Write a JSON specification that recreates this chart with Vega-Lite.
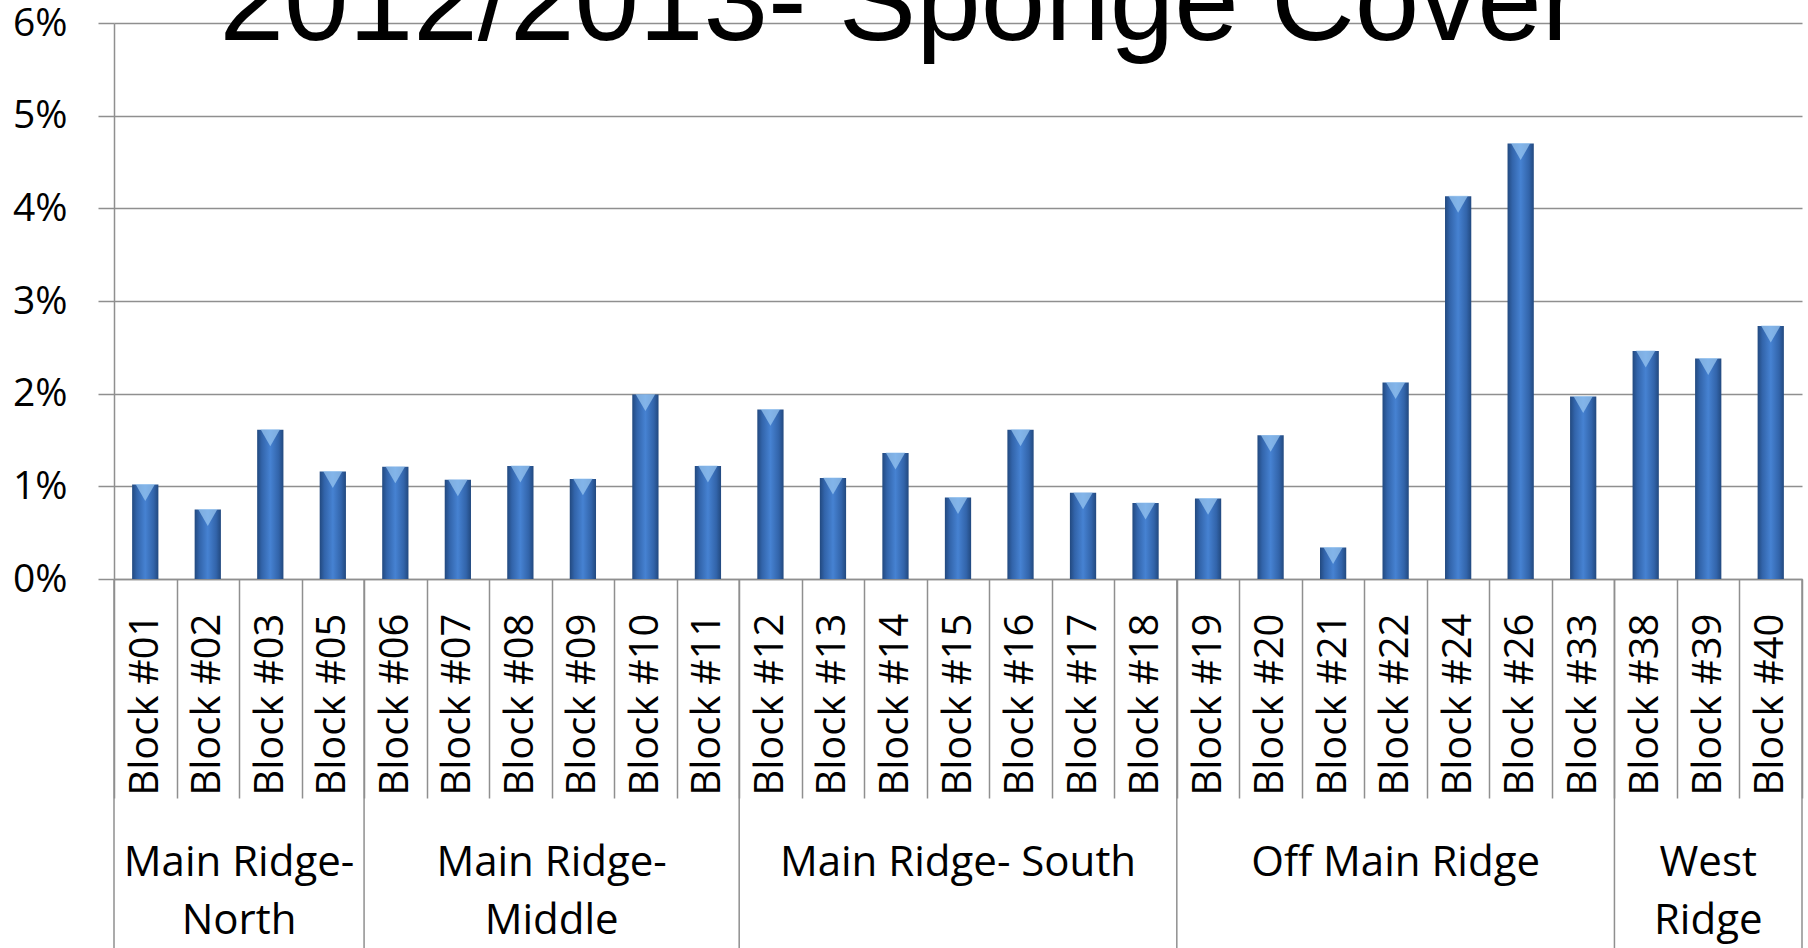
{
  "$schema": "https://vega.github.io/schema/vega-lite/v6.json",
  "width": 1688,
  "height": 556,
  "autosize": "none",
  "padding": {"left": 114, "top": 23, "right": 6, "bottom": 369},
  "background": "white",
  "config": {"view": {"stroke": null}},
  "title": {
    "text": "2012/2013- Sponge Cover",
    "font": "Liberation Sans",
    "fontSize": 116,
    "fontWeight": "normal",
    "color": "black",
    "anchor": "middle",
    "baseline": "alphabetic",
    "dx": -58,
    "offset": 0,
    "dy": 152
  },
  "datasets": {
    "blocks": [
      {"block": "Block #01", "group": "Main Ridge- North", "cover": 0.0102},
      {"block": "Block #02", "group": "Main Ridge- North", "cover": 0.0075},
      {"block": "Block #03", "group": "Main Ridge- North", "cover": 0.0161},
      {"block": "Block #05", "group": "Main Ridge- North", "cover": 0.0116},
      {"block": "Block #06", "group": "Main Ridge- Middle", "cover": 0.0121},
      {"block": "Block #07", "group": "Main Ridge- Middle", "cover": 0.0107},
      {"block": "Block #08", "group": "Main Ridge- Middle", "cover": 0.0122},
      {"block": "Block #09", "group": "Main Ridge- Middle", "cover": 0.0108},
      {"block": "Block #10", "group": "Main Ridge- Middle", "cover": 0.0199},
      {"block": "Block #11", "group": "Main Ridge- Middle", "cover": 0.0122},
      {"block": "Block #12", "group": "Main Ridge- South", "cover": 0.0183},
      {"block": "Block #13", "group": "Main Ridge- South", "cover": 0.0109},
      {"block": "Block #14", "group": "Main Ridge- South", "cover": 0.0136},
      {"block": "Block #15", "group": "Main Ridge- South", "cover": 0.0088},
      {"block": "Block #16", "group": "Main Ridge- South", "cover": 0.0161},
      {"block": "Block #17", "group": "Main Ridge- South", "cover": 0.0093},
      {"block": "Block #18", "group": "Main Ridge- South", "cover": 0.0082},
      {"block": "Block #19", "group": "Off Main Ridge", "cover": 0.0087},
      {"block": "Block #20", "group": "Off Main Ridge", "cover": 0.0155},
      {"block": "Block #21", "group": "Off Main Ridge", "cover": 0.0034},
      {"block": "Block #22", "group": "Off Main Ridge", "cover": 0.0212},
      {"block": "Block #24", "group": "Off Main Ridge", "cover": 0.0413},
      {"block": "Block #26", "group": "Off Main Ridge", "cover": 0.0470},
      {"block": "Block #33", "group": "Off Main Ridge", "cover": 0.0197},
      {"block": "Block #38", "group": "West Ridge", "cover": 0.0246},
      {"block": "Block #39", "group": "West Ridge", "cover": 0.0238},
      {"block": "Block #40", "group": "West Ridge", "cover": 0.0273}
    ],
    "groups": [
      {"label": "Main Ridge-\nNorth", "first": "Block #01", "last": "Block #05", "anchor": "Block #02", "centre": "edge"},
      {"label": "Main Ridge-\nMiddle", "first": "Block #06", "last": "Block #11", "anchor": "Block #08", "centre": "edge"},
      {"label": "Main Ridge- South", "first": "Block #12", "last": "Block #18", "anchor": "Block #15", "centre": "band"},
      {"label": "Off Main Ridge", "first": "Block #19", "last": "Block #33", "anchor": "Block #22", "centre": "band"},
      {"label": "West\nRidge", "first": "Block #38", "last": "Block #40", "anchor": "Block #39", "centre": "band"}
    ]
  },
  "layer": [
    {
      "data": {"name": "blocks"},
      "mark": {
        "type": "bar",
        "clip": false,
        "width": {"band": 0.42},
        "color": {
          "gradient": "linear",
          "x1": 0, "x2": 1, "y1": 0, "y2": 0,
          "stops": [
            {"offset": 0, "color": "#22497f"},
            {"offset": 0.18, "color": "#3264aa"},
            {"offset": 0.5, "color": "#4682d2"},
            {"offset": 0.82, "color": "#3264aa"},
            {"offset": 1, "color": "#22497f"}
          ]
        }
      },
      "encoding": {
        "x": {
          "field": "block",
          "type": "nominal",
          "sort": null,
          "scale": {
            "domain": ["Block #01", "Block #02", "Block #03", "Block #05", "Block #06", "Block #07", "Block #08", "Block #09", "Block #10", "Block #11", "Block #12", "Block #13", "Block #14", "Block #15", "Block #16", "Block #17", "Block #18", "Block #19", "Block #20", "Block #21", "Block #22", "Block #24", "Block #26", "Block #33", "Block #38", "Block #39", "Block #40"],
            "paddingInner": 0,
            "paddingOuter": 0
          },
          "axis": {
            "title": null,
            "labelAngle": 270,
            "labelFont": "Open Sans",
            "labelFontSize": 40,
            "labelColor": "black",
            "labelPadding": -185,
            "labelLimit": 0,
            "tickBand": "extent",
            "tickSize": 219,
            "tickColor": "#8f8f8f",
            "tickWidth": 1.5,
            "domainColor": "#8f8f8f",
            "domainWidth": 1.5,
            "labelOverlap": false
          }
        },
        "y": {
          "field": "cover",
          "type": "quantitative",
          "scale": {"domain": [0, 0.06], "nice": false, "zero": true},
          "axis": {
            "title": null,
            "format": ".0%",
            "values": [0, 0.01, 0.02, 0.03, 0.04, 0.05, 0.06],
            "grid": true,
            "gridColor": "#8f8f8f",
            "gridWidth": 1.5,
            "domainColor": "#8f8f8f",
            "domainWidth": 1.5,
            "tickColor": "#8f8f8f",
            "tickWidth": 1.5,
            "tickSize": 16,
            "labelFont": "Open Sans",
            "labelFontSize": 39,
            "labelColor": "black",
            "labelPadding": 31
          }
        }
      }
    },
    {
      "data": {"name": "blocks"},
      "mark": {"type": "point", "shape": "triangle-down", "filled": true, "color": "#9ccaf4", "opacity": 0.7, "size": 380, "yOffset": 8, "clip": false},
      "encoding": {
        "x": {"field": "block", "type": "nominal", "title": null},
        "y": {"field": "cover", "type": "quantitative", "title": null}
      }
    },
    {
      "data": {"name": "groups"},
      "mark": {"type": "rule", "clip": false, "color": "#8f8f8f", "strokeWidth": 1.5},
      "encoding": {
        "x": {"field": "first", "type": "nominal", "bandPosition": 0, "title": null},
        "y": {"datum": 0, "type": "quantitative"},
        "y2": {"datum": -0.045}
      }
    },
    {
      "data": {"name": "groups"},
      "transform": [{"filter": "datum.last == 'Block #40'"}],
      "mark": {"type": "rule", "clip": false, "color": "#8f8f8f", "strokeWidth": 1.5},
      "encoding": {
        "x": {"field": "last", "type": "nominal", "bandPosition": 1, "title": null},
        "y": {"datum": 0, "type": "quantitative"},
        "y2": {"datum": -0.045}
      }
    },
    {
      "data": {"name": "groups"},
      "transform": [{"filter": "datum.centre == 'edge'"}],
      "mark": {"type": "text", "clip": false, "font": "Open Sans", "fontSize": 42, "color": "black", "align": "center", "baseline": "top", "lineBreak": "\n", "lineHeight": 58, "dy": 264},
      "encoding": {
        "x": {"field": "anchor", "type": "nominal", "bandPosition": 1, "title": null},
        "y": {"datum": 0, "type": "quantitative"},
        "text": {"field": "label"}
      }
    },
    {
      "data": {"name": "groups"},
      "transform": [{"filter": "datum.centre == 'band'"}],
      "mark": {"type": "text", "clip": false, "font": "Open Sans", "fontSize": 42, "color": "black", "align": "center", "baseline": "top", "lineBreak": "\n", "lineHeight": 58, "dy": 264},
      "encoding": {
        "x": {"field": "anchor", "type": "nominal", "bandPosition": 0.5, "title": null},
        "y": {"datum": 0, "type": "quantitative"},
        "text": {"field": "label"}
      }
    }
  ]
}
